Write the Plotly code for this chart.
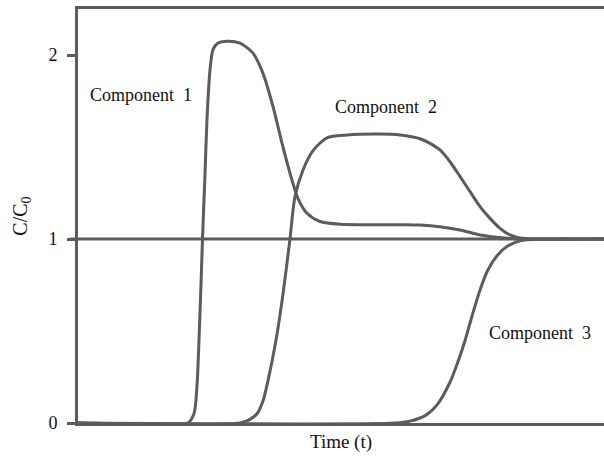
import plotly.graph_objects as go

# Breakthrough curves: relative concentration C/C0 against time
t_comp1 = [0, 2.09, 2.205, 2.262, 2.30, 2.338, 2.367, 2.414, 2.452, 2.51, 2.567,
           2.662, 2.852, 3.08, 3.327, 3.517, 3.707, 3.897, 4.068, 4.183, 4.354,
           4.601, 4.981, 6.122, 6.502, 6.882, 7.262, 7.643, 8.023, 8.403, 10]
c_comp1 = [0, 0, 0.05, 0.2, 0.45, 0.75, 1.0, 1.35, 1.65, 1.92, 2.03,
           2.065, 2.075, 2.065, 2.01, 1.90, 1.72, 1.50, 1.32, 1.22, 1.14,
           1.095, 1.08, 1.078, 1.076, 1.067, 1.049, 1.022, 1.008, 1.0, 1.0]

t_comp2 = [0, 3.08, 3.27, 3.403, 3.517, 3.612, 3.764, 3.897, 4.03, 4.125, 4.278,
           4.468, 4.734, 5.114, 5.741, 6.122, 6.502, 6.692, 6.882, 7.072, 7.262,
           7.452, 7.643, 7.833, 8.023, 8.213, 8.403, 8.783, 10]
c_comp2 = [0, 0, 0.02, 0.05, 0.12, 0.23, 0.45, 0.7, 1.0, 1.23, 1.375,
           1.48, 1.55, 1.565, 1.57, 1.565, 1.545, 1.52, 1.484, 1.42, 1.34,
           1.258, 1.176, 1.112, 1.058, 1.022, 1.005, 1.0, 1.0]

t_comp3 = [0, 6.03, 6.31, 6.60, 6.83, 7.07, 7.22, 7.36, 7.49, 7.64, 7.79, 7.97,
           8.16, 8.40, 8.78, 10]
c_comp3 = [0, 0, 0.01, 0.04, 0.1, 0.22, 0.33, 0.45, 0.58, 0.72, 0.83, 0.91,
           0.96, 0.99, 1.0, 1.0]

labels = ["Component  1", "Component  2", "Component  3"]
label_t = [1.2, 5.86, 8.78]
label_c = [1.78, 1.72, 0.49]

y_ticks = [0, 1, 2]
feed_level = 1

LINE = "#5c5c5c"
FONT = "Liberation Serif, Times New Roman, DejaVu Serif, serif"

fig = go.Figure()
for t, c in [(t_comp1, c_comp1), (t_comp2, c_comp2), (t_comp3, c_comp3)]:
    fig.add_trace(go.Scatter(
        x=t, y=c, mode="lines",
        line=dict(color=LINE, width=3, shape="spline", smoothing=0.75),
        showlegend=False, hoverinfo="skip",
    ))

# reference line at C/C0 = 1
fig.add_shape(type="line", xref="paper", yref="y", x0=-0.015, x1=1,
              y0=feed_level, y1=feed_level, line=dict(color=LINE, width=3))

for txt, x, y in zip(labels, label_t, label_c):
    fig.add_annotation(x=x, y=y, text=txt, showarrow=False,
                       font=dict(family=FONT, size=18, color="#111"))

fig.update_layout(
    width=604, height=466,
    margin=dict(l=78, r=0, t=9, b=43),
    paper_bgcolor="white", plot_bgcolor="white",
    font=dict(family=FONT, size=18, color="#111"),
    xaxis=dict(range=[0, 10], showticklabels=False, ticks="", showgrid=False,
               zeroline=False, showline=True, linecolor=LINE, linewidth=3,
               mirror=True,
               title=dict(text="Time (t)", standoff=10,
                          font=dict(family=FONT, size=19))),
    yaxis=dict(range=[0, 2.25], tickvals=y_ticks, ticks="outside", ticklen=8,
               tickwidth=3, tickcolor=LINE, showgrid=False, zeroline=False,
               showline=True, linecolor=LINE, linewidth=3,
               ticklabelstandoff=6, tickfont=dict(family=FONT, size=18),
               title=dict(text="C/C<sub>0</sub>", standoff=16,
                          font=dict(family=FONT, size=20))),
)

fig.write_html("out.html")
